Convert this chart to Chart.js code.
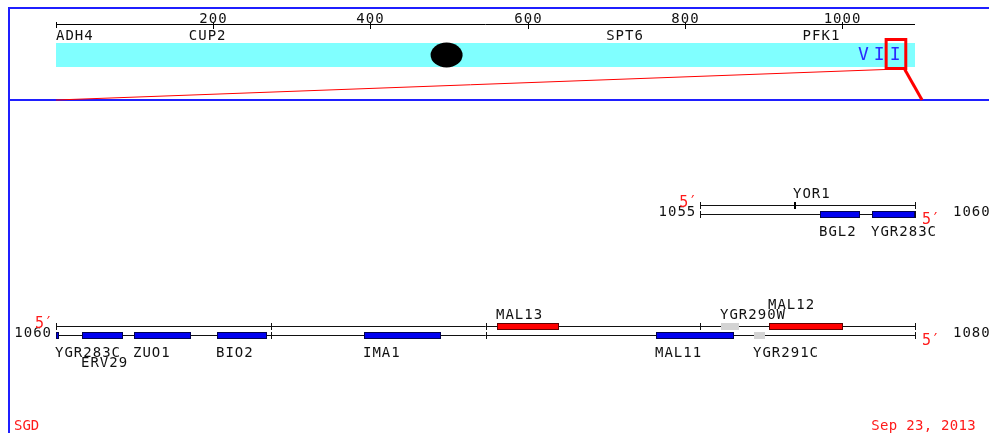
<!DOCTYPE html>
<html>
<head>
<meta charset="utf-8">
<title>SGD chromosome VII map</title>
<script src="https://cdn.jsdelivr.net/npm/chart.js@4.4.0/dist/chart.umd.min.js"></script>
<style>
html, body { margin: 0; padding: 0; background: #fff; }
#wrap { position: relative; width: 989px; height: 433px; }
</style>
</head>
<body>
<div id="wrap"><canvas id="map"></canvas></div>
<script>
// Chromosome VII overview (kb)
const chrName = 'VII';
const chrLength = 1093;
const chrTicks = [200, 400, 600, 800, 1000];
const chrGenes = ['ADH4', 'CUP2', 'SPT6', 'PFK1'];
const chrGeneKb = [0, 169, 700, 950];
const centromereKb = 497;
const viewRange = [1055, 1080];

// Contig 1 : 1055 - 1060 kb
const ctg1Range = [1055, 1060];
const ctg1Genes = ['YOR1', 'BGL2', 'YGR283C'];
const ctg1Start = [1057.19, 1057.79, 1059.0];
const ctg1End = [1057.24, 1058.72, 1060.0];
const ctg1Strand = ['W', 'C', 'C'];
const ctg1Type = ['feature', 'orf', 'orf'];

// Contig 2 : 1060 - 1080 kb
const ctg2Range = [1060, 1080];
const ctg2Genes = ['YGR283C', 'ERV29', 'ZUO1', 'BIO2', 'IMA1', 'MAL13', 'MAL11', 'YGR290W', 'YGR291C', 'MAL12'];
const ctg2Start = [1059.0, 1060.61, 1061.82, 1063.75, 1067.18, 1070.26, 1073.96, 1075.48, 1076.25, 1076.60];
const ctg2End = [1060.05, 1061.56, 1063.15, 1064.92, 1068.97, 1071.70, 1075.78, 1075.90, 1076.50, 1078.32];
const ctg2Strand = ['C', 'C', 'C', 'C', 'C', 'W', 'C', 'W', 'C', 'W'];
const ctg2Type = ['orf', 'orf', 'orf', 'orf', 'orf', 'orf', 'orf', 'dubious', 'dubious', 'orf'];

const footerLeft = 'SGD';
const footerRight = 'Sep 23, 2013';

// mise en page verticale (pixels, l'axe y va de 0 à 433)
const Y = {
    frameTop: 8, tickLabel: 19, axis: 24, chrLabel: 36,
    bandTop: 43, bandBottom: 67, boxTop: 39.5, boxBottom: 68.5,
    divider: 100,
    ctg1Top: 205, ctg1Bottom: 214,
    ctg2Top: 326, ctg2Bottom: 335,
    footer: 426
};

const FONT = '14px "DejaVu Sans Mono", monospace';
const INK = '#111';
const FRAME = '#1f1fff';
const RED = '#ff1a1a';

const span = ctg2Range[1] - ctg2Range[0];

function seg(axis, x0, x1, y0, y1, color, width) {
    return {
        xAxisID: axis, yAxisID: 'y',
        data: [{ x: x0, y: y0 }, { x: x1, y: y1 }],
        borderColor: color, borderWidth: width,
        pointRadius: 0, showLine: true, clip: false
    };
}

function txt(ctx, s, x, y, color, align, font, spacing) {
    ctx.font = font || FONT;
    ctx.letterSpacing = (spacing === undefined ? 1 : spacing) + 'px';
    ctx.fillStyle = color;
    ctx.textAlign = align || 'left';
    ctx.textBaseline = 'middle';
    ctx.fillText(s, x, y);
}

function drawContig(chart, axisId, range, names, starts, ends, strands, types, yTop, yBot) {
    const ctx = chart.ctx;
    const xs = chart.scales[axisId];
    const px = v => xs.getPixelForValue(v);
    const x0 = px(range[0]), x1 = px(range[1]);

    // graduations tous les 5 kb
    ctx.strokeStyle = INK;
    ctx.lineWidth = 1;
    for (let k = Math.ceil(range[0] / 5) * 5; k <= range[1]; k += 5) {
        const x = Math.round(px(k)) + 0.5;
        [yTop, yBot].forEach(yy => {
            ctx.beginPath();
            ctx.moveTo(x, yy - 3);
            ctx.lineTo(x, yy + 4);
            ctx.stroke();
        });
    }

    // gènes
    const rowsRight = { W: [], C: [] };
    names.forEach((name, i) => {
        const a = Math.max(starts[i], range[0]);
        const b = Math.min(ends[i], range[1]);
        const yy = strands[i] === 'W' ? yTop : yBot;
        let left = px(a), w = Math.max(px(b) - left, 3);
        if (types[i] === 'feature') {
            ctx.fillStyle = '#000';
            ctx.fillRect(Math.round(left), yy - 3, 2, 7);
        } else if (types[i] === 'dubious') {
            ctx.fillStyle = '#d4d4d4';
            ctx.fillRect(Math.round(left), yy - 3, Math.round(w), 7);
        } else {
            ctx.fillStyle = strands[i] === 'W' ? '#ff0000' : '#0000f0';
            ctx.fillRect(Math.round(left), yy - 3, Math.round(w), 7);
            ctx.strokeStyle = strands[i] === 'W' ? '#600000' : '#000050';
            ctx.strokeRect(Math.round(left) + 0.5, yy - 2.5, Math.round(w) - 1, 6);
        }

        // étiquette : rangée libre la plus proche de la ligne
        ctx.font = FONT;
        ctx.letterSpacing = '1px';
        const lx = Math.round(left) - 1;
        const lw = ctx.measureText(name).width;
        const rows = rowsRight[strands[i]];
        let r = 0;
        while (rows[r] !== undefined && rows[r] + 4 > lx) r++;
        rows[r] = lx + lw;
        const ly = strands[i] === 'W' ? yTop - 11 - 10 * r : yBot + 18 + 10 * r;
        txt(ctx, name, lx, ly, INK);
    });

    // coordonnées et extrémités 5'
    txt(ctx, String(range[0]), x0 - 4, yBot - 2, INK, 'right');
    txt(ctx, '5\u2032', x0 - 3, yTop - 2, RED, 'right', '15px "DejaVu Sans Mono", monospace', 0);
    txt(ctx, '5\u2032', x1 + 7, yBot + 6, RED, 'left', '15px "DejaVu Sans Mono", monospace', 0);
    txt(ctx, String(range[1]), x1 + 38, yBot - 2, INK, 'left');
}

const mapPlugin = {
    id: 'mapPlugin',
    beforeDatasetsDraw(chart) {
        const ctx = chart.ctx;
        const xc = chart.scales.xChr;
        ctx.save();
        // cadre
        ctx.strokeStyle = FRAME;
        ctx.lineWidth = 2;
        ctx.beginPath();
        ctx.moveTo(9, chart.height);
        ctx.lineTo(9, Y.frameTop);
        ctx.lineTo(chart.width, Y.frameTop);
        ctx.moveTo(9, Y.divider);
        ctx.lineTo(chart.width, Y.divider);
        ctx.stroke();

        // bande du chromosome
        ctx.fillStyle = '#80ffff';
        const b0 = xc.getPixelForValue(0), b1 = xc.getPixelForValue(chrLength);
        ctx.fillRect(b0, Y.bandTop, b1 - b0, Y.bandBottom - Y.bandTop);
        ctx.restore();
    },
    afterDatasetsDraw(chart) {
        const ctx = chart.ctx;
        const xc = chart.scales.xChr;
        ctx.save();

        // graduations de l'aperçu
        ctx.strokeStyle = '#000';
        ctx.lineWidth = 1;
        const s = Math.round(xc.getPixelForValue(0)) + 0.5;
        ctx.beginPath();
        ctx.moveTo(s, Y.axis - 2);
        ctx.lineTo(s, Y.axis + 4);
        ctx.stroke();
        chrTicks.forEach(t => {
            const x = Math.round(xc.getPixelForValue(t)) + 0.5;
            ctx.beginPath();
            ctx.moveTo(x, Y.axis - 2);
            ctx.lineTo(x, Y.axis + 5);
            ctx.stroke();
            txt(ctx, String(t), x, Y.tickLabel, INK, 'center');
        });
        chrGenes.forEach((g, i) => txt(ctx, g, xc.getPixelForValue(chrGeneKb[i]), Y.chrLabel, INK));

        // centromère
        ctx.fillStyle = '#000';
        ctx.beginPath();
        ctx.ellipse(xc.getPixelForValue(centromereKb), (Y.bandTop + Y.bandBottom) / 2, 16, 12.5, 0, 0, Math.PI * 2);
        ctx.fill();

        txt(ctx, chrName, xc.getPixelForValue(chrLength) - 57, (Y.bandTop + Y.bandBottom) / 2, '#2a2aff', 'left',
            '18px "DejaVu Sans Mono", monospace', 5);

        // zone affichée
        const v0 = xc.getPixelForValue(viewRange[0]), v1 = xc.getPixelForValue(viewRange[1]);
        ctx.strokeStyle = '#ff0000';
        ctx.lineWidth = 3;
        ctx.strokeRect(v0 + 1, Y.boxTop, v1 - v0, Y.boxBottom - Y.boxTop);

        drawContig(chart, 'xTop', ctg1Range, ctg1Genes, ctg1Start, ctg1End, ctg1Strand, ctg1Type, Y.ctg1Top, Y.ctg1Bottom);
        drawContig(chart, 'xBot', ctg2Range, ctg2Genes, ctg2Start, ctg2End, ctg2Strand, ctg2Type, Y.ctg2Top, Y.ctg2Bottom);

        txt(ctx, footerLeft, 14, Y.footer, RED, 'left', '14px "DejaVu Sans Mono", monospace', 0);
        txt(ctx, footerRight, 976, Y.footer, RED, 'right', '14px "DejaVu Sans Mono", monospace', 0.3);
        ctx.restore();
    }
};

// lignes fines posées sur le demi-pixel pour rester nettes
const datasets = [
    seg('xChr', 0, chrLength, Y.axis + 0.5, Y.axis + 0.5, '#000', 1),
    seg('xChr', 0, viewRange[0], Y.divider, Y.boxBottom + 1, '#ff0000', 1),
    seg('xChr', viewRange[1], 1102, Y.boxBottom + 1, Y.divider, '#ff0000', 3),
    seg('xTop', ctg1Range[0], ctg1Range[1], Y.ctg1Top + 0.5, Y.ctg1Top + 0.5, INK, 1),
    seg('xTop', ctg1Range[0], ctg1Range[1], Y.ctg1Bottom + 0.5, Y.ctg1Bottom + 0.5, INK, 1),
    seg('xBot', ctg2Range[0], ctg2Range[1], Y.ctg2Top + 0.5, Y.ctg2Top + 0.5, INK, 1),
    seg('xBot', ctg2Range[0], ctg2Range[1], Y.ctg2Bottom + 0.5, Y.ctg2Bottom + 0.5, INK, 1)
];

new Chart(document.getElementById('map'), {
    type: 'scatter',
    data: { datasets: datasets },
    options: {
        responsive: true,
        maintainAspectRatio: false,
        animation: false,
        events: [],
        layout: { padding: { left: 56, right: 74, top: 0, bottom: 0 } },
        plugins: { legend: { display: false }, tooltip: { enabled: false } },
        scales: {
            xChr: { type: 'linear', axis: 'x', min: 0, max: chrLength, display: false },
            xTop: { type: 'linear', axis: 'x', min: ctg1Range[1] - span, max: ctg1Range[1], display: false },
            xBot: { type: 'linear', axis: 'x', min: ctg2Range[0], max: ctg2Range[1], display: false },
            y: { type: 'linear', min: 0, max: 433, reverse: true, display: false }
        }
    },
    plugins: [mapPlugin]
});
</script>
</body>
</html>
